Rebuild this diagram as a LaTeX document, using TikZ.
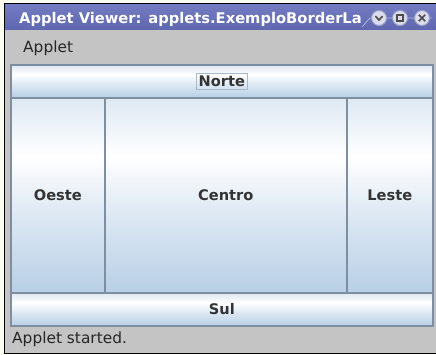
\documentclass[tikz,border=0pt]{standalone}
\usepackage{fontspec}
\setmainfont{DejaVu Sans}
\usepackage{xcolor}
\usetikzlibrary{positioning}
\definecolor{desk}{HTML}{FAFDF0}
\definecolor{titletop}{HTML}{737BC2}
\definecolor{titlebot}{HTML}{5E66AE}
\definecolor{panelgray}{HTML}{C4C4C4}
\definecolor{btnedge}{HTML}{7D8FA1}
\definecolor{oceanA}{HTML}{DDE8F3}
\definecolor{oceanB}{HTML}{B8CFE5}
\definecolor{focusedge}{HTML}{A6BACE}
\definecolor{knob}{HTML}{DCDDEC}
\definecolor{knobedge}{HTML}{9AA0CC}
\colorlet{labeltext}{black!80}
\pgfdeclareverticalshading{ocean}{100bp}{color(0bp)=(oceanB); color(25bp)=(oceanB); color(45bp)=(oceanA); color(60bp)=(white); color(75bp)=(oceanA); color(100bp)=(oceanA)}
\newcommand\labelfont{\fontsize{14.6}{16}\selectfont\bfseries}
\newcommand\plainfont{\fontsize{15.4}{17}\selectfont}
\tikzstyle{bar}=[anchor=north west, inner sep=0pt, fill=panelgray]
\tikzstyle{button}=[anchor=north west, inner sep=0pt, draw=btnedge, line width=1.6pt, shading=ocean, font=\labelfont, text=labeltext]
\tikzstyle{focus}=[draw=focusedge, line width=.8pt, inner sep=2.5pt, font=\labelfont, text=labeltext]
\tikzstyle{knobs}=[circle, inner sep=0pt, minimum size=15pt, fill=knob, draw=knobedge, line width=1pt]

\begin{document}
\begin{tikzpicture}[x=1pt,y=-1pt]
	\useasboundingbox (0,0) rectangle (436,355);
	\fill[desk] (0,0) rectangle (436,355);
	\fill[panelgray] (4,4) rectangle (436,353);
	\node[bar, top color=titletop, bottom color=titlebot, minimum width=432pt, minimum height=26pt] (titlebar) at (4,4) {};
	\node[anchor=base west, inner sep=0pt, text=white, font=\fontsize{14.7}{16}\selectfont\bfseries] (title) at (19,24) {Applet Viewer: applets.ExemploBorderLa};
	\draw[knobedge!70!white, line width=.7pt] (362,27) -- (370,18) -- (432,18);
	\node[knobs] (iconify)  at (379,18) {};
	\node[knobs] (maximize) at (400,18) {};
	\node[knobs] (close)    at (422,18) {};
	\draw[black!70, line width=1.6pt, line cap=round] ([shift={(-3.3,-1.6)}]iconify.center) -- ([shift={(0,2)}]iconify.center) -- ([shift={(3.3,-1.6)}]iconify.center);
	\draw[black!70, line width=1.5pt] ([shift={(-3.2,-3.2)}]maximize.center) rectangle ([shift={(3.2,3.2)}]maximize.center);
	\draw[black!70, line width=1.6pt] ([shift={(-3.2,-3.2)}]close.center) -- ([shift={(3.2,3.2)}]close.center)
		([shift={(-3.2,3.2)}]close.center) -- ([shift={(3.2,-3.2)}]close.center);
	\node[bar, minimum width=431pt, minimum height=33pt] (menubar) at (5,30) {};
	\node[anchor=west, inner sep=0pt, font=\plainfont, text=black!85] (menu) at (23,48) {Applet};
	\node[button, minimum width=422pt, minimum height=33pt] (norte) at (10,64) {};
	\node[focus] (nortelabel) at (norte) {Norte};
	\node[button, minimum width=94pt,  minimum height=195pt] (oeste)  at (10,97)  {Oeste};
	\node[button, minimum width=242pt, minimum height=195pt] (centro) at (104,97) {Centro};
	\node[button, minimum width=86pt,  minimum height=195pt] (leste)  at (346,97) {Leste};
	\node[button, minimum width=422pt, minimum height=33pt]  (sul)    at (10,292) {Sul};
	\node[anchor=west, inner sep=0pt, font=\plainfont, text=black!85] (status) at (12,339) {Applet started.};
	\draw[black, line width=1.2pt] (436,3.6) -- (4.2,3.6) -- (4.2,353.4) -- (436,353.4);
\end{tikzpicture}
\end{document}
